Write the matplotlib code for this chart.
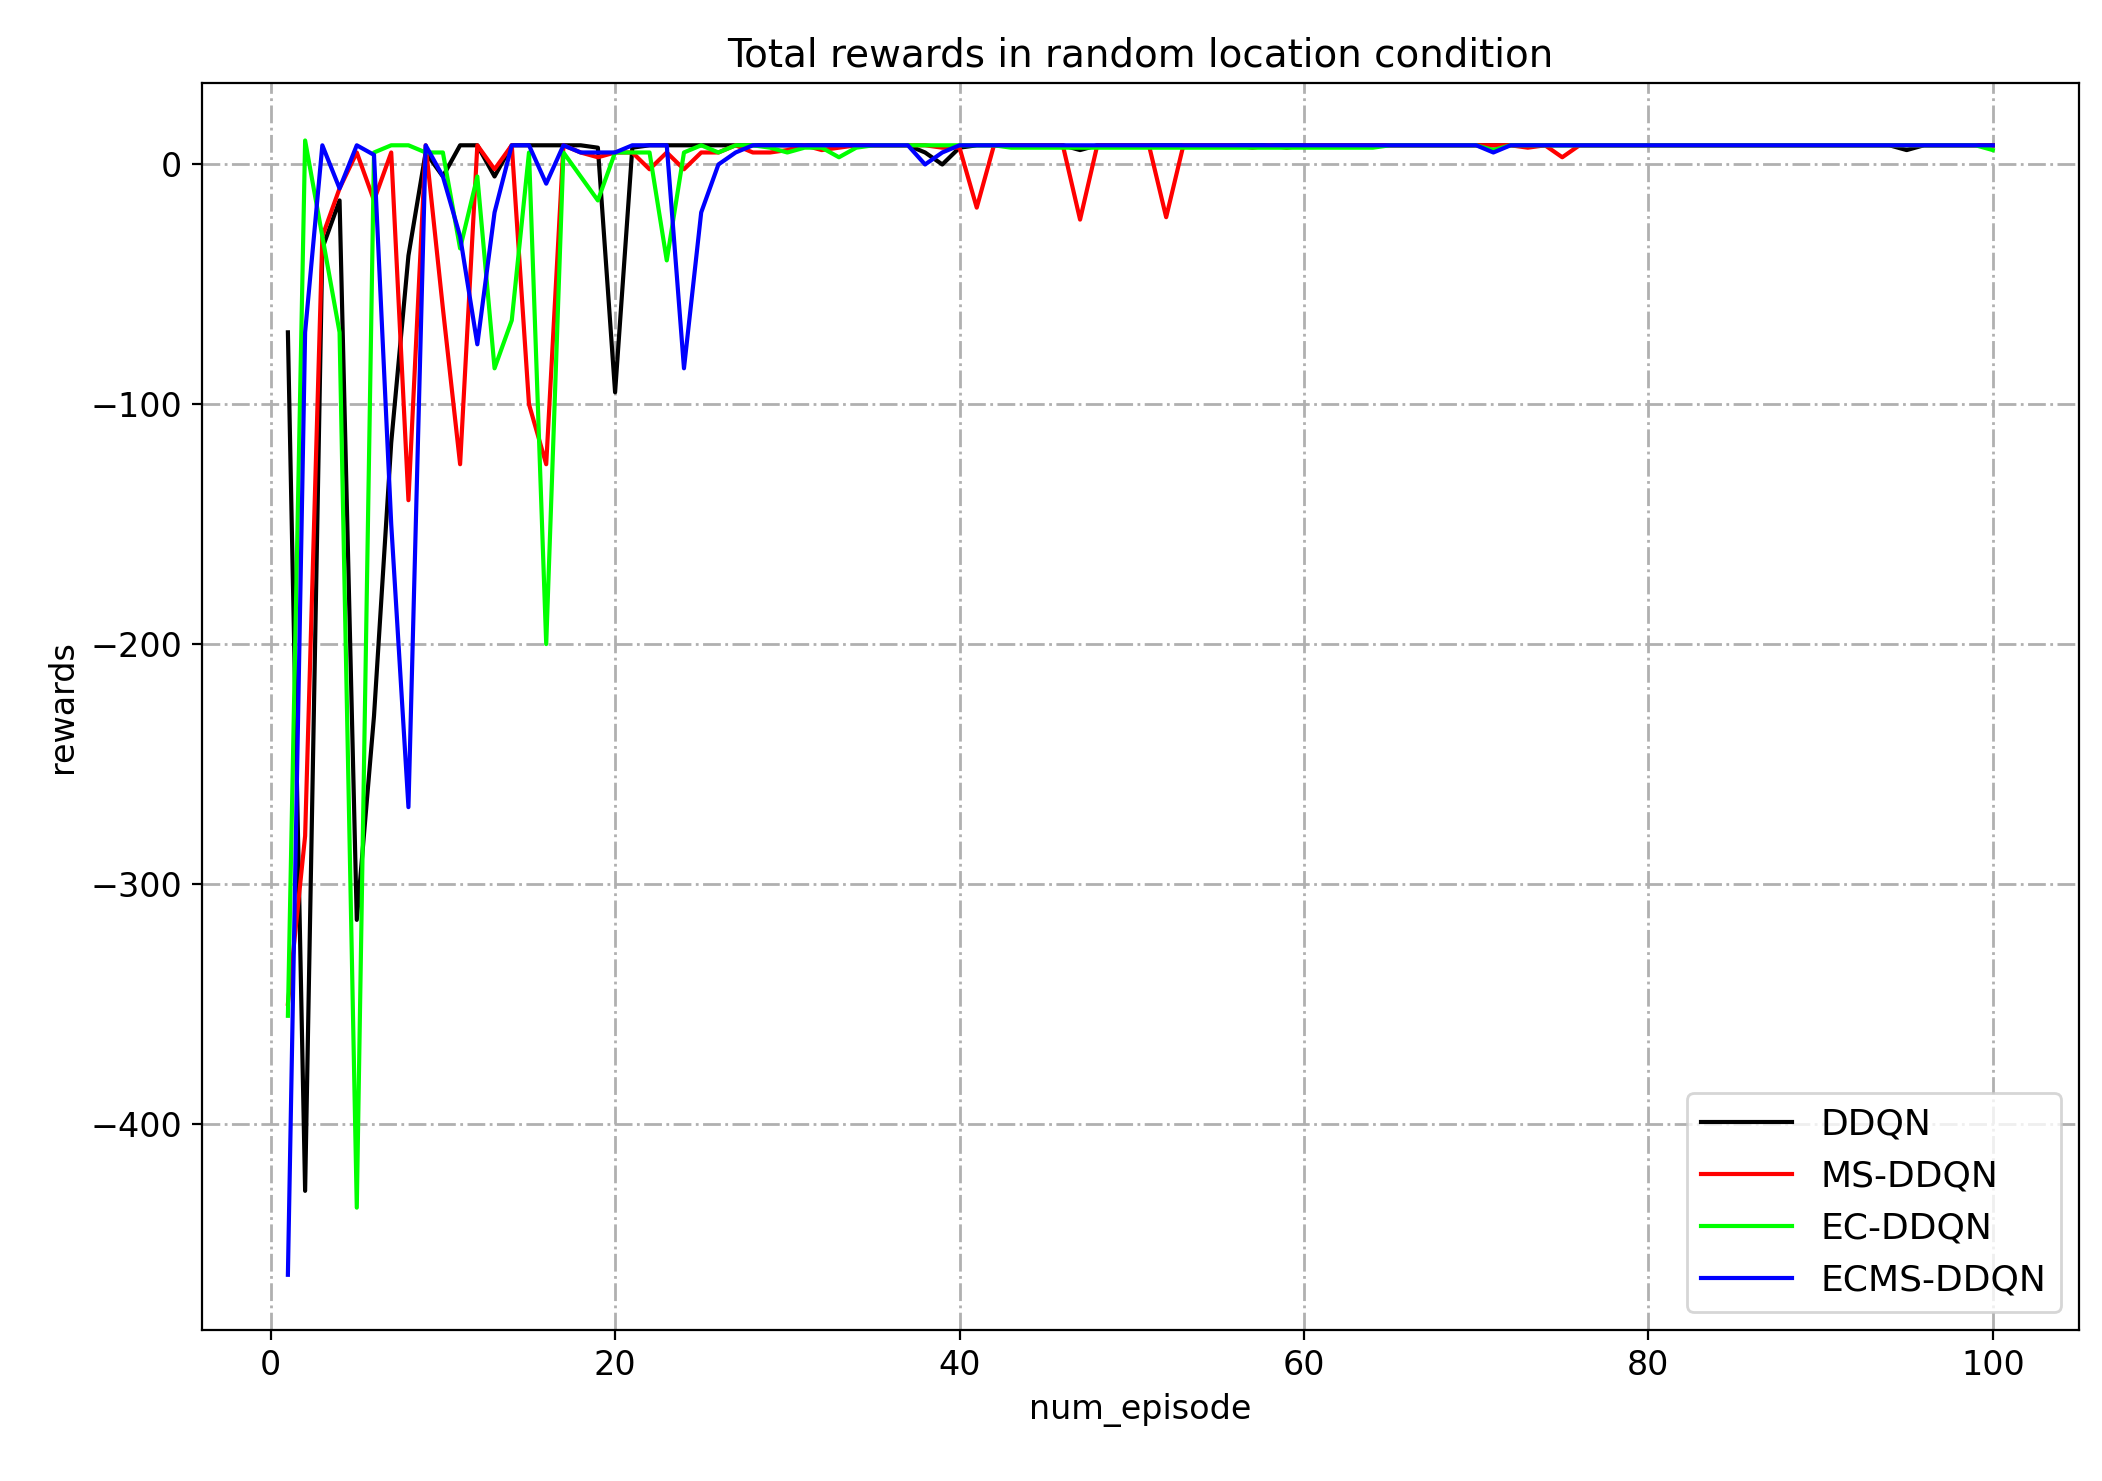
import matplotlib.pyplot as plt
import numpy as np

episodes = np.arange(1, 101)

ddqn = [-70, -428, -35, -15, -315, -230, -116, -38, 5, -5,
        8, 8, -5, 8, 8, 8, 8, 8, 7, -95,
        7, 8, 8, 8, 8, 8, 8, 8, 8, 8,
        8, 8, 8, 8, 8, 8, 8, 5, 0, 7,
        8, 8, 8, 8, 8, 8, 6, 8, 8, 8,
        8, 8, 8, 8, 8, 8, 8, 8, 8, 8,
        8, 8, 8, 8, 8, 8, 8, 8, 8, 8,
        8, 8, 8, 8, 8, 8, 8, 8, 8, 8,
        8, 8, 8, 8, 8, 8, 8, 8, 8, 8,
        8, 8, 8, 8, 6, 8, 8, 8, 8, 8]
ms_ddqn = [-350, -280, -30, -10, 5, -15, 5, -140, 8, -60,
           -125, 8, -2, 8, -100, -125, 8, 5, 3, 5,
           5, -2, 5, -2, 5, 5, 8, 5, 5, 6,
           8, 6, 7, 8, 8, 8, 8, 8, 7, 7,
           -18, 8, 8, 8, 8, 8, -23, 8, 8, 8,
           8, -22, 8, 8, 8, 8, 7, 8, 7, 8,
           8, 8, 8, 8, 8, 8, 8, 8, 8, 8,
           8, 8, 7, 8, 3, 8, 8, 8, 8, 8,
           8, 8, 8, 8, 8, 8, 8, 8, 8, 8,
           8, 8, 8, 8, 8, 8, 8, 8, 8, 8]
ec_ddqn = [-355, 10, -30, -70, -435, 5, 8, 8, 5, 5,
           -35, -5, -85, -65, 5, -200, 5, -5, -15, 5,
           5, 5, -40, 5, 8, 5, 8, 8, 7, 5,
           7, 7, 3, 7, 8, 8, 8, 8, 8, 8,
           8, 8, 7, 7, 7, 7, 7, 7, 7, 7,
           7, 7, 7, 7, 7, 7, 7, 7, 7, 7,
           7, 7, 7, 7, 8, 8, 8, 8, 8, 8,
           6, 8, 8, 8, 8, 8, 8, 8, 8, 8,
           8, 8, 8, 8, 8, 8, 8, 8, 8, 8,
           8, 8, 8, 8, 8, 8, 8, 8, 8, 6]
ecms_ddqn = [-463, -70, 8, -10, 8, 4, -150, -268, 8, -5,
             -30, -75, -20, 8, 8, -8, 8, 5, 5, 5,
             8, 8, 8, -85, -20, 0, 5, 8, 8, 8,
             8, 8, 8, 8, 8, 8, 8, 0, 5, 8,
             8, 8, 8, 8, 8, 8, 8, 8, 8, 8,
             8, 8, 8, 8, 8, 8, 8, 8, 8, 8,
             8, 8, 8, 8, 8, 8, 8, 8, 8, 8,
             5, 8, 8, 8, 8, 8, 8, 8, 8, 8,
             8, 8, 8, 8, 8, 8, 8, 8, 8, 8,
             8, 8, 8, 8, 8, 8, 8, 8, 8, 8]

fig = plt.figure(figsize=(10.51, 7.405), dpi=200)
ax = fig.add_axes([0.096, 0.102, 0.893, 0.842])

ax.plot(episodes, ddqn, color='black', linewidth=1.5, label='DDQN')
ax.plot(episodes, ms_ddqn, color='red', linewidth=1.5, label='MS-DDQN')
ax.plot(episodes, ec_ddqn, color='#00ff00', linewidth=1.5, label='EC-DDQN')
ax.plot(episodes, ecms_ddqn, color='blue', linewidth=1.5, label='ECMS-DDQN')

ax.set_xlim(-4, 105)
ax.set_ylim(-486, 34)
ax.set_xticks([0, 20, 40, 60, 80, 100])
ax.set_yticks([0, -100, -200, -300, -400])
ax.grid(True, linestyle='-.', color='#b0b0b0', linewidth=1)
ax.tick_params(labelsize=12)

ax.set_xlabel('num_episode', fontsize=12)
ax.set_ylabel('rewards', fontsize=12)
ax.set_title('Total rewards in random location condition', fontsize=14)
ax.legend(loc='lower right', fontsize=13, handlelength=2.5)

fig.savefig('out.png')
